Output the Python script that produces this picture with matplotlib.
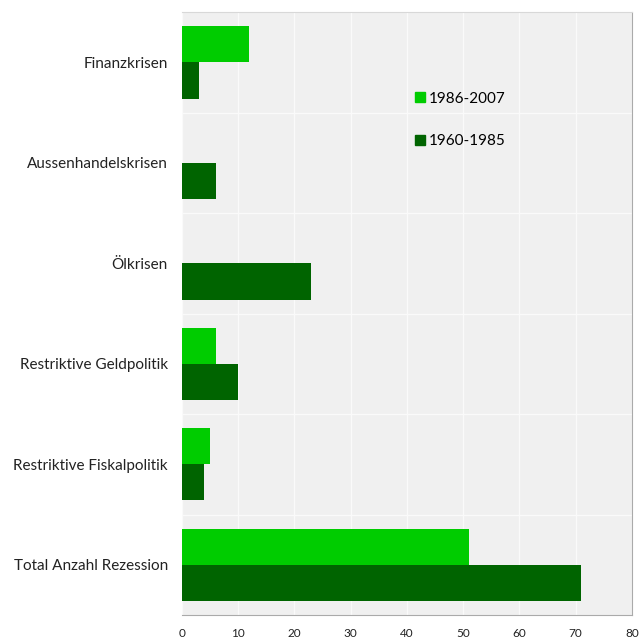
import numpy as np
import matplotlib.pyplot as plt
from matplotlib.lines import Line2D

# categories top to bottom
categories = ["Finanzkrisen", "Aussenhandelskrisen", "Ölkrisen",
              "Restriktive Geldpolitik", "Restriktive Fiskalpolitik",
              "Total Anzahl Rezession"]
recent = [12, 0, 0, 6, 5, 51]      # 1986-2007
early = [3, 6, 23, 10, 4, 71]      # 1960-1985
labels = ["1986-2007", "1960-1985"]
colors = ["#00cc00", "#006400"]

plt.rcParams['font.family'] = ['Lato', 'DejaVu Sans']

fig = plt.figure(figsize=(6.4, 6.38), dpi=100, facecolor='white')
ax = fig.add_axes([0.284, 0.036, 0.7035, 0.945])
ax.set_facecolor('#f0f0f0')

n = len(categories)
ypos = np.arange(n)[::-1]
h = 0.36
ax.barh(ypos + h / 2, recent, height=h, color=colors[0], zorder=3)
ax.barh(ypos - h / 2, early, height=h, color=colors[1], zorder=3)

ax.set_ylim(-0.5, n - 0.5)
ax.set_xlim(0, 80)
ax.set_xticks(range(0, 81, 10))
ax.set_yticks(ypos)
ax.set_yticklabels(categories, fontsize=11, color='#222222')
ax.set_yticks(np.arange(n - 1) + 0.5, minor=True)
ax.tick_params(axis='x', labelsize=8.5, colors='#222222', length=0, pad=9)
ax.tick_params(axis='y', which='both', length=0, pad=10)

ax.grid(axis='x', color='#fafafa', linewidth=1, zorder=0)
ax.grid(axis='y', which='minor', color='#fafafa', linewidth=1, zorder=0)

ax.spines['top'].set_color('#d8d8d8')
for side in ['right', 'bottom']:
    ax.spines[side].set_color('#aaaaaa')
ax.spines['left'].set_visible(False)

handles = [Line2D([], [], marker='s', linestyle='none', markersize=7,
                  markerfacecolor=c, markeredgecolor=c) for c in colors]
fig.legend(handles, labels, loc='upper left', bbox_to_anchor=(0.623, 0.878),
           frameon=False, fontsize=11, labelspacing=1.88, handletextpad=0.1,
           handlelength=1.0)

fig.savefig('out.png', dpi=100, facecolor='white')
